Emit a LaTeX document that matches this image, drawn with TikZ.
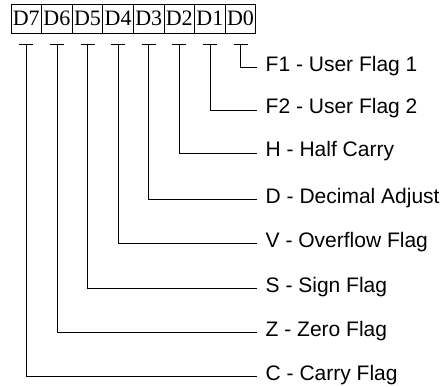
\documentclass[tikz,border=0pt]{standalone}
\usepackage{fontspec}
\setmainfont{Liberation Serif}
\newfontfamily\flagfont{Liberation Sans}
\usepackage{tikz}

\tikzset{
    bitbox/.style={draw, line width=0.8pt, minimum width=30.6pt, minimum height=29pt,
        inner sep=0pt, font=\fontsize{22}{24}\selectfont},
    flag/.style={anchor=base west, inner xsep=8.5pt, inner ysep=0pt,
        font=\flagfont\fontsize{21}{24}\selectfont},
    wire/.style={line width=0.8pt}
}

\begin{document}
\begin{tikzpicture}[x=1pt, y=-1pt]
    \useasboundingbox (0,0) rectangle (446,387);

    % Register bits D7 ... D0
    \foreach \i in {7,...,0} {
        \node[bitbox] (b\i) at ({11+30.6*(7-\i)+15.3}, 18.5) {D\i};
        \coordinate (t\i) at ({11+30.6*(7-\i)+15.3}, 44);
    }

    % Flag names
    \node[flag] (f0) at (257, 71.5) {F1 - User Flag 1};
    \node[flag] (f1) at (257, 114) {F2 - User Flag 2};
    \node[flag] (f2) at (257, 157) {H - Half Carry};
    \node[flag] (f3) at (257, 203) {D - Decimal Adjust};
    \node[flag] (f4) at (257, 247) {V - Overflow Flag};
    \node[flag] (f5) at (257, 292) {S - Sign Flag};
    \node[flag] (f6) at (257, 336) {Z - Zero Flag};
    \node[flag] (f7) at (257, 380) {C - Carry Flag};

    % Ticks and leader lines
    \foreach \i in {0,...,7} {
        \draw[wire] ([xshift=-7pt]t\i) -- ([xshift=7pt]t\i);
        \draw[wire] (t\i) |- ([yshift=4pt]f\i.base west);
    }
\end{tikzpicture}
\end{document}
